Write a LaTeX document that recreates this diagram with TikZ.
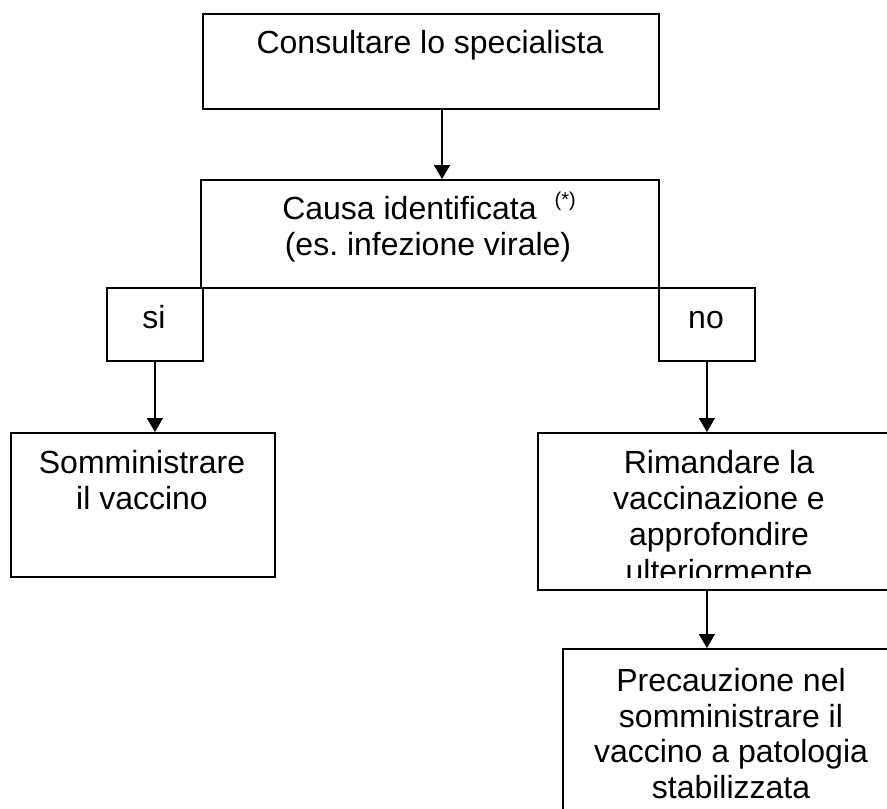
\documentclass[tikz,border=0pt]{standalone}
\usepackage{fontspec}
\setmainfont{Liberation Sans}
\usetikzlibrary{arrows.meta}
\frenchspacing
\begin{document}
\begin{tikzpicture}[x=1pt,y=-1pt,
  box/.style={draw, line width=1.8pt, rectangle, inner sep=0pt, anchor=north west},
  txt/.style={anchor=base, inner sep=0pt, font=\fontsize{32}{36}\selectfont},
  arr/.style={line width=1.8pt, -{Triangle[length=14pt,width=16pt]}}]
\clip (0,0) rectangle (887,809);
\fill[white] (0,0) rectangle (887,809);
% boxes
\node[box, minimum width=456pt, minimum height=95pt] (b1) at (202,13) {};
\node[box, minimum width=458pt, minimum height=108pt] (b2) at (200,179) {};
\node[box, minimum width=96pt, minimum height=73pt] (si) at (106,287) {};
\node[box, minimum width=96pt, minimum height=73pt] (no) at (658,287) {};
\node[box, minimum width=264pt, minimum height=144pt] (som) at (10,432) {};
\node[box, minimum width=380pt, minimum height=157pt] (rim) at (537,432) {};
\node[box, minimum width=360pt, minimum height=190pt] (pre) at (562,648) {};
% texts
\node[txt] (t1) at (430,53) {Consultare lo specialista};
\node[txt] (t2a) at (429,219) {Causa identificata\hspace{18pt}\raisebox{13pt}{\fontsize{20}{20}\selectfont(*)}};
\node[txt] (t2b) at (428,255) {(es. infezione virale)};
\node[txt] (tsi) at (154,328) {si};
\node[txt] (tno) at (706,328) {no};
\node[txt] (ts1) at (142,473) {Somministrare};
\node[txt] (ts2) at (142,509) {il vaccino};
\begin{scope}
\clip (537,432) rectangle (899,577);
\node[txt] (tr1) at (719,473) {Rimandare la};
\node[txt] (tr2) at (719,509) {vaccinazione e};
\node[txt] (tr3) at (719,545) {approfondire};
\node[txt] (tr4) at (719,582.5) {ulteriormente};
\end{scope}
\node[txt] (tp1) at (731,691.5) {Precauzione nel};
\node[txt] (tp2) at (731,727) {somministrare il};
\node[txt] (tp3) at (731,762.5) {vaccino a patologia};
\node[txt] (tp4) at (731,798) {stabilizzata};
% connectors
\coordinate (a1) at (442,0);
\draw[arr] (a1 |- b1.south) -- (a1 |- b2.north);
\draw[arr] (si.south) -- (si.south |- som.north);
\draw[arr] (no.south) -- (no.south |- rim.north);
\draw[arr] (no.south |- rim.south) -- (no.south |- pre.north);
\end{tikzpicture}
\end{document}
